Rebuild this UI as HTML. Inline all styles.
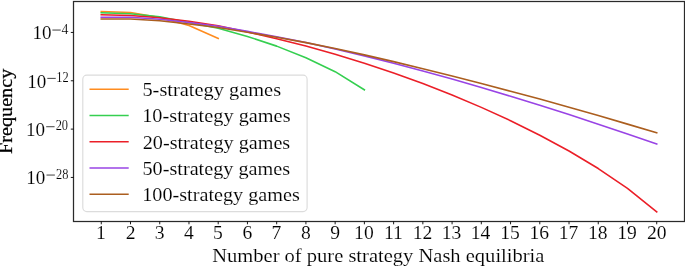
<!DOCTYPE html>
<html><head><meta charset="utf-8"><style>
html,body{margin:0;padding:0;background:#fff;}
svg{display:block;}
text{font-family:"Liberation Serif", serif;}
svg{will-change:transform;}
text{stroke:#fff;stroke-width:0.12px;paint-order:fill;}
.ns text{stroke:#000;stroke-width:0.25px;}
</style></head><body>
<svg width="685" height="266" viewBox="0 0 685 266">
<rect width="685" height="266" fill="#fff"/>
<defs><clipPath id="ax"><rect x="73.5" y="1.5" width="611.0" height="220.0"/></clipPath></defs>
<g clip-path="url(#ax)">
<polyline points="101.27,11.47 130.51,12.43 159.74,17.58 188.98,25.59 218.21,38.45" fill="none" stroke="#ff8c1f" stroke-width="1.6" stroke-linejoin="round" stroke-linecap="square"/>
<polyline points="101.27,12.82 130.51,13.78 159.74,16.89 188.98,22.42 218.21,28.21 247.44,36.45 276.68,46.12 305.91,57.76 335.15,71.69 364.38,89.78" fill="none" stroke="#35cf50" stroke-width="1.6" stroke-linejoin="round" stroke-linecap="square"/>
<polyline points="101.27,14.77 130.51,15.50 159.74,17.79 188.98,21.20 218.21,25.82 247.44,31.98 276.68,38.72 305.91,46.07 335.15,54.16 364.38,63.19 393.62,72.99 422.85,83.59 452.09,95.03 481.32,107.37 510.56,120.72 539.79,135.21 569.02,151.05 598.26,168.55 627.49,188.34 656.73,211.92" fill="none" stroke="#eb1f28" stroke-width="1.6" stroke-linejoin="round" stroke-linecap="square"/>
<polyline points="101.27,17.30 130.51,17.27 159.74,19.27 188.98,22.53 218.21,26.29 247.44,31.40 276.68,36.73 305.91,42.59 335.15,48.93 364.38,55.88 393.62,63.20 422.85,70.94 452.09,78.98 481.32,87.51 510.56,96.31 539.79,105.26 569.02,114.57 598.26,124.22 627.49,134.02 656.73,143.97" fill="none" stroke="#9944e5" stroke-width="1.6" stroke-linejoin="round" stroke-linecap="square"/>
<polyline points="101.27,18.98 130.51,19.00 159.74,20.74 188.98,24.08 218.21,27.57 247.44,32.24 276.68,37.27 305.91,42.66 335.15,48.46 364.38,54.85 393.62,61.65 422.85,68.73 452.09,75.99 481.32,83.50 510.56,91.25 539.79,99.08 569.02,107.18 598.26,115.57 627.49,124.13 656.73,132.82" fill="none" stroke="#ab5e1f" stroke-width="1.6" stroke-linejoin="round" stroke-linecap="square"/>
</g>
<rect x="82.8" y="75.15" width="224.30" height="136.45" rx="4" ry="4" fill="#fff" fill-opacity="0.8" stroke="#dcdcdc" stroke-width="1.15"/>
<g font-family="Liberation Serif, serif" fill="#000">
<line x1="90.3" y1="89.2" x2="127.9" y2="89.2" stroke="#ff8c1f" stroke-width="1.6" stroke-linecap="square"/>
<text transform="translate(142.42,96.20) scale(1.1335,1)" font-size="18.0">5-strategy games</text>
<line x1="90.3" y1="115.48" x2="127.9" y2="115.48" stroke="#35cf50" stroke-width="1.6" stroke-linecap="square"/>
<text transform="translate(142.18,122.48) scale(1.1291,1)" font-size="18.0">10-strategy games</text>
<line x1="90.3" y1="141.76" x2="127.9" y2="141.76" stroke="#eb1f28" stroke-width="1.6" stroke-linecap="square"/>
<text transform="translate(142.73,148.76) scale(1.1226,1)" font-size="18.0">20-strategy games</text>
<line x1="90.3" y1="168.04000000000002" x2="127.9" y2="168.04000000000002" stroke="#9944e5" stroke-width="1.6" stroke-linecap="square"/>
<text transform="translate(142.43,175.04) scale(1.1250,1)" font-size="18.0">50-strategy games</text>
<line x1="90.3" y1="194.32" x2="127.9" y2="194.32" stroke="#ab5e1f" stroke-width="1.6" stroke-linecap="square"/>
<text transform="translate(142.19,201.32) scale(1.1229,1)" font-size="18.0">100-strategy games</text>
</g>
<rect x="73.5" y="1.5" width="611.0" height="220.0" fill="none" stroke="#2a2a2a" stroke-width="1.25"/>
<g font-family="Liberation Serif, serif" fill="#000">
<line x1="101.27" y1="221.5" x2="101.27" y2="224.30" stroke="#000" stroke-width="0.9"/>
<text transform="translate(96.11,239.20) scale(1.0000,1)" font-size="19.6">1</text>
<line x1="130.51" y1="221.5" x2="130.51" y2="224.30" stroke="#000" stroke-width="0.9"/>
<text transform="translate(125.72,239.20) scale(1.0000,1)" font-size="19.6">2</text>
<line x1="159.74" y1="221.5" x2="159.74" y2="224.30" stroke="#000" stroke-width="0.9"/>
<text transform="translate(154.76,239.20) scale(1.0000,1)" font-size="19.6">3</text>
<line x1="188.98" y1="221.5" x2="188.98" y2="224.30" stroke="#000" stroke-width="0.9"/>
<text transform="translate(184.04,239.20) scale(1.0000,1)" font-size="19.6">4</text>
<line x1="218.21" y1="221.5" x2="218.21" y2="224.30" stroke="#000" stroke-width="0.9"/>
<text transform="translate(213.12,239.20) scale(1.0000,1)" font-size="19.6">5</text>
<line x1="247.44" y1="221.5" x2="247.44" y2="224.30" stroke="#000" stroke-width="0.9"/>
<text transform="translate(242.42,239.20) scale(1.0000,1)" font-size="19.6">6</text>
<line x1="276.68" y1="221.5" x2="276.68" y2="224.30" stroke="#000" stroke-width="0.9"/>
<text transform="translate(271.42,239.20) scale(1.0000,1)" font-size="19.6">7</text>
<line x1="305.91" y1="221.5" x2="305.91" y2="224.30" stroke="#000" stroke-width="0.9"/>
<text transform="translate(301.01,239.20) scale(1.0000,1)" font-size="19.6">8</text>
<line x1="335.15" y1="221.5" x2="335.15" y2="224.30" stroke="#000" stroke-width="0.9"/>
<text transform="translate(330.34,239.20) scale(1.0000,1)" font-size="19.6">9</text>
<line x1="364.38" y1="221.5" x2="364.38" y2="224.30" stroke="#000" stroke-width="0.9"/>
<text transform="translate(354.10,239.20) scale(1.0000,1)" font-size="19.6">10</text>
<line x1="393.62" y1="221.5" x2="393.62" y2="224.30" stroke="#000" stroke-width="0.9"/>
<text transform="translate(383.92,239.20) scale(1.0000,1)" font-size="19.6">11</text>
<line x1="422.85" y1="221.5" x2="422.85" y2="224.30" stroke="#000" stroke-width="0.9"/>
<text transform="translate(412.74,239.20) scale(1.0000,1)" font-size="19.6">12</text>
<line x1="452.09" y1="221.5" x2="452.09" y2="224.30" stroke="#000" stroke-width="0.9"/>
<text transform="translate(441.82,239.20) scale(1.0000,1)" font-size="19.6">13</text>
<line x1="481.32" y1="221.5" x2="481.32" y2="224.30" stroke="#000" stroke-width="0.9"/>
<text transform="translate(470.81,239.20) scale(1.0000,1)" font-size="19.6">14</text>
<line x1="510.56" y1="221.5" x2="510.56" y2="224.30" stroke="#000" stroke-width="0.9"/>
<text transform="translate(500.28,239.20) scale(1.0000,1)" font-size="19.6">15</text>
<line x1="539.79" y1="221.5" x2="539.79" y2="224.30" stroke="#000" stroke-width="0.9"/>
<text transform="translate(529.42,239.20) scale(1.0000,1)" font-size="19.6">16</text>
<line x1="569.02" y1="221.5" x2="569.02" y2="224.30" stroke="#000" stroke-width="0.9"/>
<text transform="translate(558.65,239.20) scale(1.0000,1)" font-size="19.6">17</text>
<line x1="598.26" y1="221.5" x2="598.26" y2="224.30" stroke="#000" stroke-width="0.9"/>
<text transform="translate(587.98,239.20) scale(1.0000,1)" font-size="19.6">18</text>
<line x1="627.49" y1="221.5" x2="627.49" y2="224.30" stroke="#000" stroke-width="0.9"/>
<text transform="translate(617.24,239.20) scale(1.0000,1)" font-size="19.6">19</text>
<line x1="656.73" y1="221.5" x2="656.73" y2="224.30" stroke="#000" stroke-width="0.9"/>
<text transform="translate(646.88,239.20) scale(1.0000,1)" font-size="19.6">20</text>
<line x1="70.80" y1="32.45" x2="73.5" y2="32.45" stroke="#000" stroke-width="0.9"/>
<text transform="translate(61.51,33.65) scale(1.0000,1)" font-size="13.8">4</text>
<line x1="52.37" y1="30.05" x2="60.77" y2="30.05" stroke="#000" stroke-width="0.75"/>
<text transform="translate(32.39,39.45) scale(0.9750,1)" font-size="19.6">10</text>
<line x1="70.80" y1="80.78" x2="73.5" y2="80.78" stroke="#000" stroke-width="0.9"/>
<text transform="translate(56.26,81.98) scale(0.9000,1)" font-size="13.8">12</text>
<line x1="47.34" y1="78.38" x2="55.74" y2="78.38" stroke="#000" stroke-width="0.75"/>
<text transform="translate(27.16,87.78) scale(0.9750,1)" font-size="19.6">10</text>
<line x1="70.80" y1="129.12" x2="73.5" y2="129.12" stroke="#000" stroke-width="0.9"/>
<text transform="translate(55.65,130.32) scale(0.9000,1)" font-size="13.8">20</text>
<line x1="46.19" y1="126.72" x2="54.59" y2="126.72" stroke="#000" stroke-width="0.75"/>
<text transform="translate(26.00,136.12) scale(0.9750,1)" font-size="19.6">10</text>
<line x1="70.80" y1="177.45" x2="73.5" y2="177.45" stroke="#000" stroke-width="0.9"/>
<text transform="translate(55.95,178.65) scale(0.9000,1)" font-size="13.8">28</text>
<line x1="46.49" y1="175.05" x2="54.89" y2="175.05" stroke="#000" stroke-width="0.75"/>
<text transform="translate(26.30,184.45) scale(0.9750,1)" font-size="19.6">10</text>
<text transform="translate(212.23,261.90) scale(1.1401,1)" font-size="18.0">Number of pure strategy Nash equilibria</text>
<g transform="translate(12.4,153.4) rotate(-90)" class="ns"><text transform="translate(-0.57,0.00) scale(1.1217,1)" font-size="18.0">Frequency</text></g>
</g>
</svg>
</body></html>
